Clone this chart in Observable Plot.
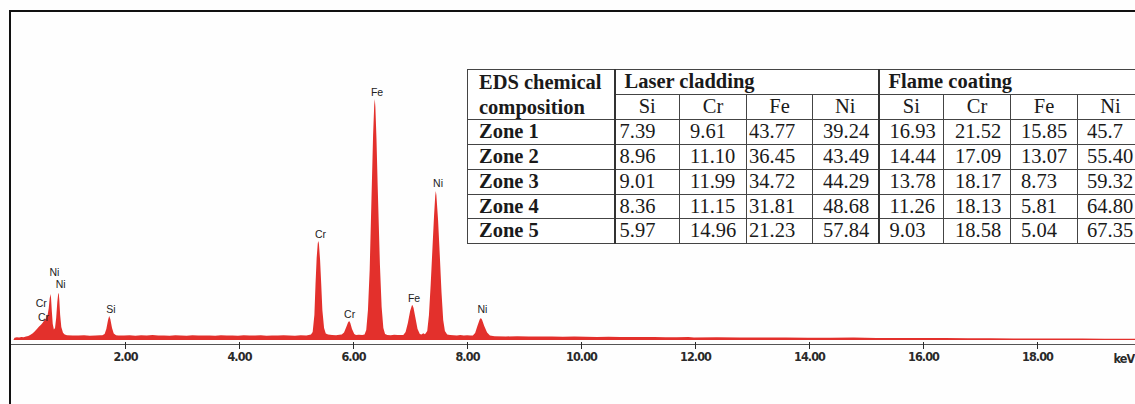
<!DOCTYPE html>
<html>
<head>
<meta charset="utf-8">
<script src="https://cdn.jsdelivr.net/npm/d3@7"></script>
<script src="https://cdn.jsdelivr.net/npm/@observablehq/plot@0.6"></script>
<style>
  html, body { margin: 0; padding: 0; background: #fff; overflow: hidden; }
  #wrap { position: relative; width: 1135px; height: 404px; overflow: hidden; background: #fefefe; }
  #border { position: absolute; left: 9px; top: 10px; width: 2000px; height: 2000px; border: 2px solid #111; box-sizing: border-box; }
  #chart { position: absolute; left: 0; top: 0; }
  #chart svg { display: block; }
  #chart g[aria-label="x-axis tick label"] text, #chart .unit text { letter-spacing: -0.9px; }
  #tbl { position: absolute; left: 467px; top: 69px; border-collapse: collapse; table-layout: fixed;
         font-family: "Liberation Serif", "Times New Roman", serif; font-size: 20.5px; color: #1a1a1a; background: #fff; }
  #tbl td { border: 1px solid #444; height: 23.7px; padding: 0; line-height: 23.7px; white-space: nowrap; overflow: hidden; }
  #tbl .b { font-weight: bold; }
</style>
</head>
<body>
<div id="wrap">
  <div id="chart"></div>
  <div id="border"></div>
  <table id="tbl"></table>
</div>
<script>
// ---------- spectrum data (keV, counts) ----------
const lowEnergy = [[0.06,0],[0.08,22],[0.12,28],[0.16,25],[0.2,30],[0.24,27],[0.28,34],[0.32,40],[0.36,52],[0.4,68],[0.44,90],[0.48,115],[0.51,135],[0.54,150],[0.57,170],[0.6,195],[0.63,215],[0.66,250],[0.68,320],[0.695,410],[0.71,460],[0.72,420],[0.735,280],[0.75,160],[0.77,105],[0.79,120],[0.81,220],[0.83,380],[0.845,460],[0.855,470],[0.865,400],[0.88,250],[0.9,130],[0.93,72],[0.96,55],[1.0,48]];
const background1 = [[1.1,46],[1.2,44],[1.3,47],[1.4,43],[1.5,45],[1.58,48]];
const siPeak = [[1.62,47],[1.66,60],[1.69,110],[1.72,200],[1.74,240],[1.76,210],[1.79,120],[1.82,65],[1.86,48]];
const background2 = [[1.9,46],[2.0,44],[2.1,48],[2.2,43],[2.3,47],[2.4,45],[2.5,49],[2.6,44],[2.7,46],[2.8,42],[2.9,47],[3.0,45],[3.1,43],[3.2,48],[3.3,44],[3.4,46],[3.5,45],[3.6,42],[3.7,47],[3.8,44],[3.9,46],[4.0,43],[4.1,48],[4.2,45],[4.3,44],[4.4,47],[4.5,43],[4.6,46],[4.7,44],[4.8,48],[4.9,45],[5.0,43],[5.1,47],[5.2,46]];
const crPeaks = [[5.28,55],[5.31,80],[5.34,250],[5.36,560],[5.38,820],[5.4,970],[5.41,990],[5.42,960],[5.44,800],[5.46,560],[5.48,300],[5.51,120],[5.54,65],[5.58,55],[5.65,50],[5.72,48],[5.78,52],[5.82,55],[5.86,75],[5.9,130],[5.93,175],[5.95,190],[5.97,170],[6.0,110],[6.04,60],[6.07,50],[6.12,52],[6.18,50]];
const fePeaks = [[6.22,55],[6.25,100],[6.28,300],[6.31,700],[6.33,1150],[6.35,1600],[6.37,2050],[6.39,2350],[6.4,2410],[6.41,2330],[6.43,2000],[6.45,1550],[6.47,1150],[6.49,750],[6.52,330],[6.55,120],[6.58,60],[6.62,50],[6.68,48],[6.74,52],[6.8,49],[6.86,51],[6.9,50],[6.94,80],[6.98,170],[7.02,290],[7.05,345],[7.06,350],[7.08,320],[7.11,230],[7.15,110],[7.19,60],[7.22,55],[7.25,68]];
const niPeaks = [[7.28,58],[7.32,90],[7.35,250],[7.38,550],[7.41,900],[7.44,1250],[7.46,1440],[7.47,1490],[7.48,1450],[7.51,1200],[7.54,850],[7.57,480],[7.6,200],[7.63,90],[7.67,55],[7.72,50],[7.78,48],[7.84,46],[7.9,49],[7.96,45],[8.02,47],[8.08,46],[8.12,45],[8.16,70],[8.2,140],[8.24,205],[8.26,220],[8.28,205],[8.32,140],[8.37,75],[8.42,45]];
const background3 = [[8.5,38],[8.7,36],[8.9,37],[9.1,35],[9.3,34],[9.5,36],[9.7,33],[9.9,34],[10.1,32],[10.3,31],[10.5,33],[10.7,30],[10.9,31],[11.1,29],[11.3,30],[11.5,28],[11.7,27],[11.9,29],[12.0,26],[12.4,27],[12.8,25],[13.2,24],[13.6,26],[14.0,23],[14.4,22],[14.8,24],[15.2,21],[15.6,20],[16.0,19],[16.4,21],[16.8,18],[17.2,17],[17.6,16],[18.0,15],[18.4,16],[18.8,14],[19.2,13],[19.6,12],[19.8,12],[20.0,10]];

// peak labels: element, keV, counts (label anchor)
const peakLabels = [
  {element: "Cr", keV: 0.54, counts: 373},
  {element: "Cr", keV: 0.58, counts: 230},
  {element: "Ni", keV: 0.77, counts: 680},
  {element: "Ni", keV: 0.88, counts: 560},
  {element: "Si", keV: 1.76, counts: 307},
  {element: "Cr", keV: 5.44, counts: 1057},
  {element: "Cr", keV: 5.95, counts: 263},
  {element: "Fe", keV: 6.43, counts: 2483},
  {element: "Fe", keV: 7.08, counts: 417},
  {element: "Ni", keV: 7.50, counts: 1567},
  {element: "Ni", keV: 8.28, counts: 307}
];

const xTicks = [2, 4, 6, 8, 10, 12, 14, 16, 18];
const xUnit = "keV";

// ---------- table data ----------
const tableHeader = ["EDS chemical", "composition"];
const groups = ["Laser cladding", "Flame coating"];
const elements = ["Si", "Cr", "Fe", "Ni"];
const zones = ["Zone 1", "Zone 2", "Zone 3", "Zone 4", "Zone 5"];
const laserCladding = [
  ["7.39", "9.61", "43.77", "39.24"],
  ["8.96", "11.10", "36.45", "43.49"],
  ["9.01", "11.99", "34.72", "44.29"],
  ["8.36", "11.15", "31.81", "48.68"],
  ["5.97", "14.96", "21.23", "57.84"]
];
const flameCoating = [
  ["16.93", "21.52", "15.85", "45.7"],
  ["14.44", "17.09", "13.07", "55.40"],
  ["13.78", "18.17", "8.73", "59.32"],
  ["11.26", "18.13", "5.81", "64.80"],
  ["9.03", "18.58", "5.04", "67.35"]
];

// ---------- chart ----------
const spectrum = [...lowEnergy, ...background1, ...siPeak, ...background2, ...crPeaks, ...fePeaks, ...niPeaks, ...background3]
  .map(([keV, counts]) => ({keV, counts}))
  .sort((a, b) => a.keV - b.keV);

const axisFont = '"Liberation Sans Narrow", "DejaVu Sans Condensed", "Arial Narrow", "Liberation Sans", sans-serif';

const chart = Plot.plot({
  width: 1135,
  height: 404,
  marginLeft: 10,
  marginRight: 0,
  marginTop: 0,
  marginBottom: 60,
  style: {background: "transparent", overflow: "visible"},
  x: {domain: [0, 20], range: [10, 1150], label: null},
  y: {domain: [-40, 3400], axis: null},
  marks: [
    Plot.areaY(spectrum, {x: "keV", y: "counts", fill: "#e3302c", curve: "linear"}),
    Plot.frame({anchor: "bottom", stroke: "#555"}),
    Plot.axisX({
      ticks: xTicks, tickFormat: d => d.toFixed(2), tickSize: 7, tickPadding: 3, dy: -2, dx: 1,
      label: null, color: "#2a2a2a", fontWeight: "bold", fontSize: 12.5, fontFamily: axisFont
    }),
    Plot.text([xUnit], {
      frameAnchor: "bottom-right", textAnchor: "start", lineAnchor: "middle", className: "unit",
      dx: -22, dy: 14, fill: "#2a2a2a", fontWeight: "bold", fontSize: 12.5, fontFamily: axisFont
    }),
    Plot.text(peakLabels, {
      x: "keV", y: "counts", text: "element", fill: "#222",
      fontSize: 10.5, fontFamily: '"Liberation Sans", Arial, sans-serif'
    })
  ]
});
document.getElementById("chart").appendChild(chart);

// ---------- table ----------
const colWidths = [147, 65, 67, 66, 66, 65, 67, 67, 66];
const numPads = [4, 10, 2, 10, 10, 11, 10, 9];
const tbl = document.getElementById("tbl");
const cg = document.createElement("colgroup");
colWidths.forEach(w => { const c = document.createElement("col"); c.style.width = w + "px"; cg.appendChild(c); });
tbl.appendChild(cg);
tbl.style.width = colWidths.reduce((a, b) => a + b, 0) + "px";

function td(text, opts = {}) {
  const c = document.createElement("td");
  c.innerHTML = text;
  if (opts.bold) c.className = "b";
  if (opts.align) c.style.textAlign = opts.align;
  if (opts.pad != null) c.style.paddingLeft = opts.pad + "px";
  if (opts.rowspan) c.rowSpan = opts.rowspan;
  if (opts.colspan) c.colSpan = opts.colspan;
  if (opts.thickLeft) c.style.borderLeft = "2px solid #333";
  return c;
}
// header row 1
let tr = document.createElement("tr");
const h0 = td(tableHeader.join("<br>"), {bold: true, rowspan: 2, pad: 11});
h0.style.lineHeight = "24.7px";
tr.appendChild(h0);
tr.appendChild(td(groups[0], {bold: true, colspan: 4, pad: 9, thickLeft: true}));
tr.appendChild(td(groups[1], {bold: true, colspan: 4, pad: 9, thickLeft: true}));
tbl.appendChild(tr);
// header row 2
tr = document.createElement("tr");
[0, 1].forEach(g => elements.forEach((e, i) => tr.appendChild(td(e, {align: "center", thickLeft: i === 0}))));
tbl.appendChild(tr);
// data rows
zones.forEach((z, r) => {
  const row = document.createElement("tr");
  row.appendChild(td(z, {bold: true, pad: 11}));
  laserCladding[r].forEach((v, i) => row.appendChild(td(v, {pad: numPads[i], thickLeft: i === 0})));
  flameCoating[r].forEach((v, i) => row.appendChild(td(v, {pad: numPads[4 + i], thickLeft: i === 0})));
  tbl.appendChild(row);
});
</script>
</body>
</html>
